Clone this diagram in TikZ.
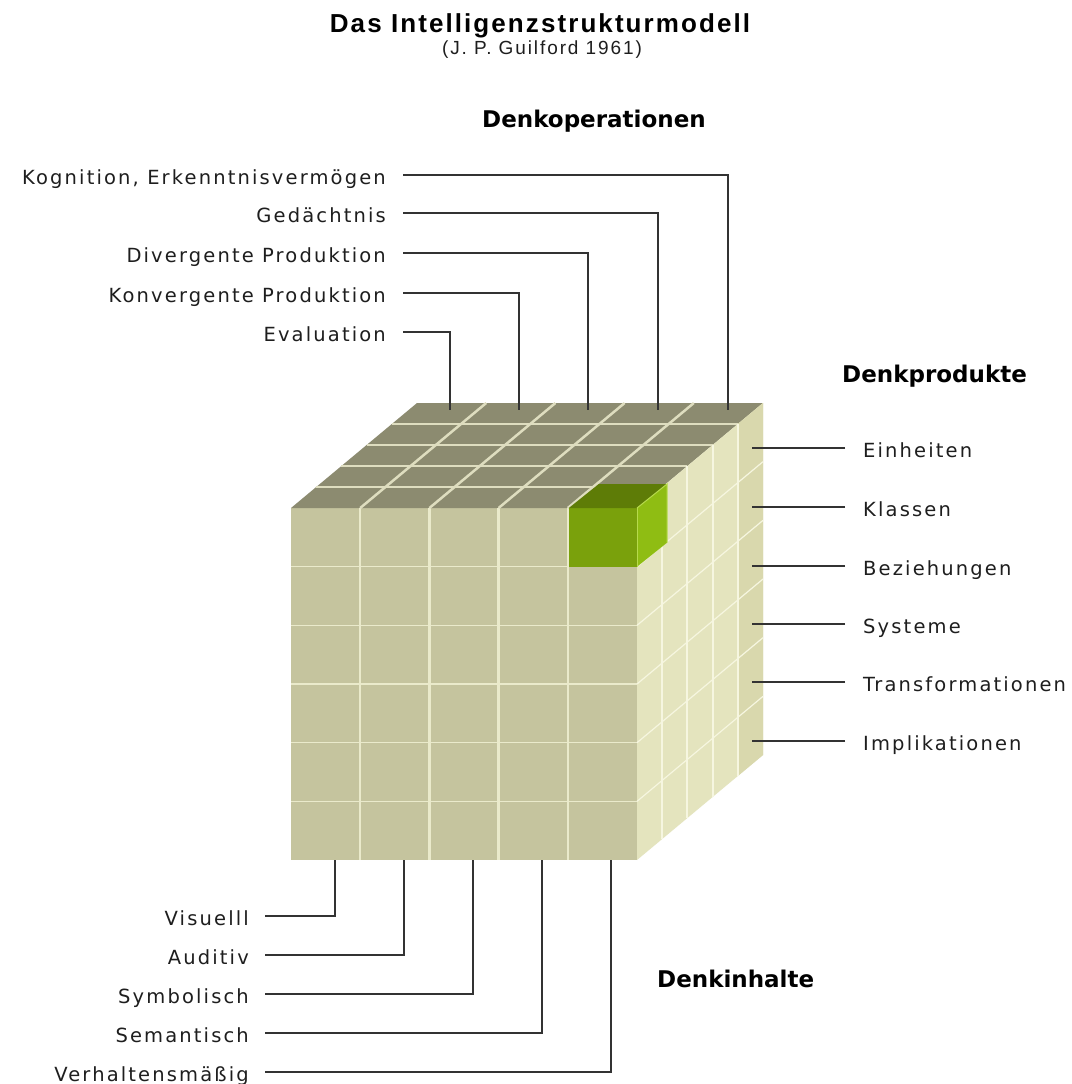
\documentclass[tikz,border=0pt]{standalone}
\usepackage{fontspec}
\setmainfont{DejaVu Sans}
\newfontfamily\lblfont[LetterSpace=11]{DejaVu Sans}
\newfontfamily\hdfont{DejaVu Sans}
\newfontfamily\ttlfont[LetterSpace=8]{Liberation Sans}
\newfontfamily\subfont[LetterSpace=10]{Liberation Sans}

\definecolor{topface}{HTML}{8C8B70}
\definecolor{frontface}{HTML}{C5C49E}
\definecolor{sideface}{HTML}{E4E4BE}
\definecolor{sideback}{HTML}{D9D8AD}
\definecolor{gridfront}{HTML}{EAEACB}
\definecolor{gridtop}{HTML}{DEDDBF}
\definecolor{gridside}{HTML}{F6F6E0}
\definecolor{grfront}{HTML}{7AA10C}
\definecolor{grtop}{HTML}{5E7C07}
\definecolor{grside}{HTML}{8FBD13}
\definecolor{gredge}{HTML}{B6DA4C}
\definecolor{conncol}{HTML}{333333}
\definecolor{textcol}{HTML}{1E1E1E}

\tikzset{
  conn/.style={draw=conncol, line width=1.9pt},
  lbl/.style={font=\lblfont\fontsize{19.5}{22}\selectfont, text=textcol,
    inner sep=0pt, text height=18pt, text depth=0pt},
  heading/.style={font=\hdfont\bfseries\fontsize{23}{26}\selectfont,
    text=black, inner sep=0pt},
}

\begin{document}
\begin{tikzpicture}[x=1pt,y=-1pt]
\useasboundingbox (0,0) rectangle (1071,1084);
\fill[white] (0,0) rectangle (1071,1084);

% title
\node[anchor=base, inner sep=0pt, font=\ttlfont\bfseries\fontsize{26}{28}\selectfont]
  (title) at (540,32) {Das Intelligenzstrukturmodell};
\node[anchor=base, inner sep=0pt, text=textcol, font=\subfont\fontsize{19}{21}\selectfont]
  (subtitle) at (542,54) {(J. P. Guilford 1961)};

% axis headings
\node[heading, anchor=base west] (hop) at (482,127) {Denkoperationen};
\node[heading, anchor=base west] (hpr) at (842,382) {Denkprodukte};
\node[heading, anchor=base west] (hin) at (657,987) {Denkinhalte};

% cube faces
\fill[frontface] (291,508) rectangle (637,860);
\fill[topface] (291,508) -- (637,508) -- (763,403) -- (417,403) -- cycle;
\fill[sideface] (637,508) -- (763,403) -- (763,755) -- (637,860) -- cycle;
\fill[sideback] (737.8,424) -- (763,403) -- (763,755) -- (737.8,776) -- cycle;

% grid on the front face: 5 contents x 6 products
\foreach \k in {1,...,4}
  \draw[gridfront, line width=2.5pt] ({291+69.2*\k},508) -- ++(0,352);
\foreach \i in {1,...,5}
  \draw[gridfront, line width=1.5pt] (291,{508+58.67*\i}) -- ++(346,0);
% grid on the top face: 5 contents x 5 operations
\foreach \k in {1,...,4}
  \draw[gridtop, line width=2.5pt] ({291+69.2*\k},508) -- ++(126,-105);
\foreach \j in {1,...,4}
  \draw[gridtop, line width=2.5pt] ({291+25.2*\j},{508-21*\j}) -- ++(346,0);
% grid on the side face: 5 operations x 6 products
\foreach \j in {1,...,4}
  \draw[gridside, line width=2pt] ({637+25.2*\j},{508-21*\j}) -- ++(0,352);
\foreach \i in {1,...,5}
  \draw[gridside, line width=1.2pt] (637,{508+58.67*\i}) -- ++(126,-105);

% highlighted cell
\fill[grfront] (568.8,508) rectangle (637,566.7);
\fill[grtop] (568.8,508) -- (637,508) -- (667,484) -- (598.8,484) -- cycle;
\fill[grside] (637,508) -- (667,484) -- (667,542.7) -- (637,566.7) -- cycle;
\draw[gredge, line width=1pt] (637,508) -- (637,566.7);
\draw[gredge, line width=1pt] (637,508) -- (667,484) -- (667,542.7);

% connector end points on the cube
\coordinate (t1) at (450,410);
\coordinate (t2) at (519,410);
\coordinate (t3) at (588,410);
\coordinate (t4) at (658,410);
\coordinate (t5) at (728,410);
\coordinate (s1) at (752,448);
\coordinate (s2) at (752,507);
\coordinate (s3) at (752,566);
\coordinate (s4) at (752,624);
\coordinate (s5) at (752,682);
\coordinate (s6) at (752,741);
\coordinate (b1) at (335,860);
\coordinate (b2) at (404,860);
\coordinate (b3) at (473,860);
\coordinate (b4) at (542,860);
\coordinate (b5) at (611,860);

% operations
\node[lbl, anchor=base east] (op1) at (386,184) {Kognition, Erkenntnisvermögen};
\node[lbl, anchor=base east] (op2) at (386,222) {Gedächtnis};
\node[lbl, anchor=base east] (op3) at (386,262) {Divergente Produktion};
\node[lbl, anchor=base east] (op4) at (386,302) {Konvergente Produktion};
\node[lbl, anchor=base east] (op5) at (386,341) {Evaluation};
\draw[conn, shorten <=17pt] (op1.east) -| (t5);
\draw[conn, shorten <=17pt] (op2.east) -| (t4);
\draw[conn, shorten <=17pt] (op3.east) -| (t3);
\draw[conn, shorten <=17pt] (op4.east) -| (t2);
\draw[conn, shorten <=17pt] (op5.east) -| (t1);

% products
\node[lbl, anchor=base west] (pr1) at (863,457) {Einheiten};
\node[lbl, anchor=base west] (pr2) at (863,516) {Klassen};
\node[lbl, anchor=base west] (pr3) at (863,575) {Beziehungen};
\node[lbl, anchor=base west] (pr4) at (863,633) {Systeme};
\node[lbl, anchor=base west] (pr5) at (863,691) {Transformationen};
\node[lbl, anchor=base west] (pr6) at (863,750) {Implikationen};
\foreach \n in {1,...,6}
  \draw[conn, shorten <=18pt] (pr\n.west) -- (s\n);

% contents
\node[lbl, anchor=base east] (in1) at (249,925) {Visuelll};
\node[lbl, anchor=base east] (in2) at (249,964) {Auditiv};
\node[lbl, anchor=base east] (in3) at (249,1003) {Symbolisch};
\node[lbl, anchor=base east] (in4) at (249,1042) {Semantisch};
\node[lbl, anchor=base east] (in5) at (249,1081) {Verhaltensmäßig};
\foreach \n in {1,...,5}
  \draw[conn, shorten <=16pt] (in\n.east) -| (b\n);
\end{tikzpicture}
\end{document}
